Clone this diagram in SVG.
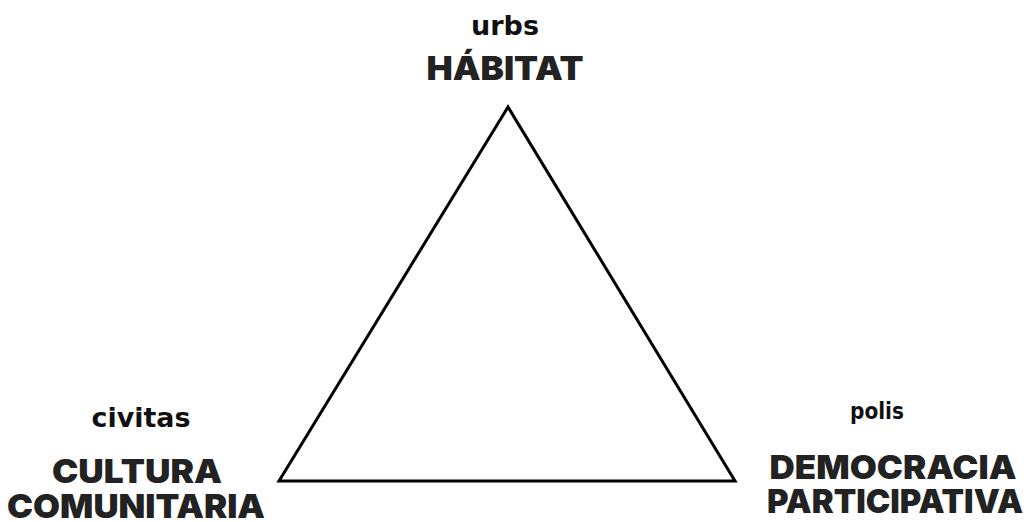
<svg xmlns="http://www.w3.org/2000/svg" width="1034" height="522" viewBox="0 0 1034 522">
<style>
.lbl{font-family:"DejaVu Sans","Liberation Sans",sans-serif;font-weight:bold;fill:#111;text-anchor:middle}
.big{font-family:"Inter","Liberation Sans",sans-serif;font-weight:900;fill:#222;text-anchor:middle;font-size:33px}
.tri{fill:none;stroke:#000;stroke-width:3;stroke-linejoin:miter}
</style>
<rect width="1034" height="522" fill="#fff"/>
<g id="connectors">
<polygon class="tri" points="508,107 279,481 735,481"/>
</g>
<g id="node-habitat">
<text class="lbl" x="505" y="35" font-size="27" textLength="68" lengthAdjust="spacingAndGlyphs">urbs</text>
<text class="big" x="505" y="80" textLength="157" lengthAdjust="spacingAndGlyphs">HÁBITAT</text>
</g>
<g id="node-cultura">
<text class="lbl" x="141" y="427" font-size="26" textLength="99" lengthAdjust="spacingAndGlyphs">civitas</text>
<text class="big" x="137" y="483" textLength="170" lengthAdjust="spacingAndGlyphs">CULTURA</text>
<text class="big" x="136" y="518" textLength="258" lengthAdjust="spacingAndGlyphs">COMUNITARIA</text>
</g>
<g id="node-democracia">
<text class="lbl" x="877" y="419" font-size="23" textLength="54" lengthAdjust="spacingAndGlyphs">polis</text>
<text class="big" x="893" y="479" textLength="247" lengthAdjust="spacingAndGlyphs">DEMOCRACIA</text>
<text class="big" x="895" y="513" textLength="256" lengthAdjust="spacingAndGlyphs">PARTICIPATIVA</text>
</g>
</svg>
